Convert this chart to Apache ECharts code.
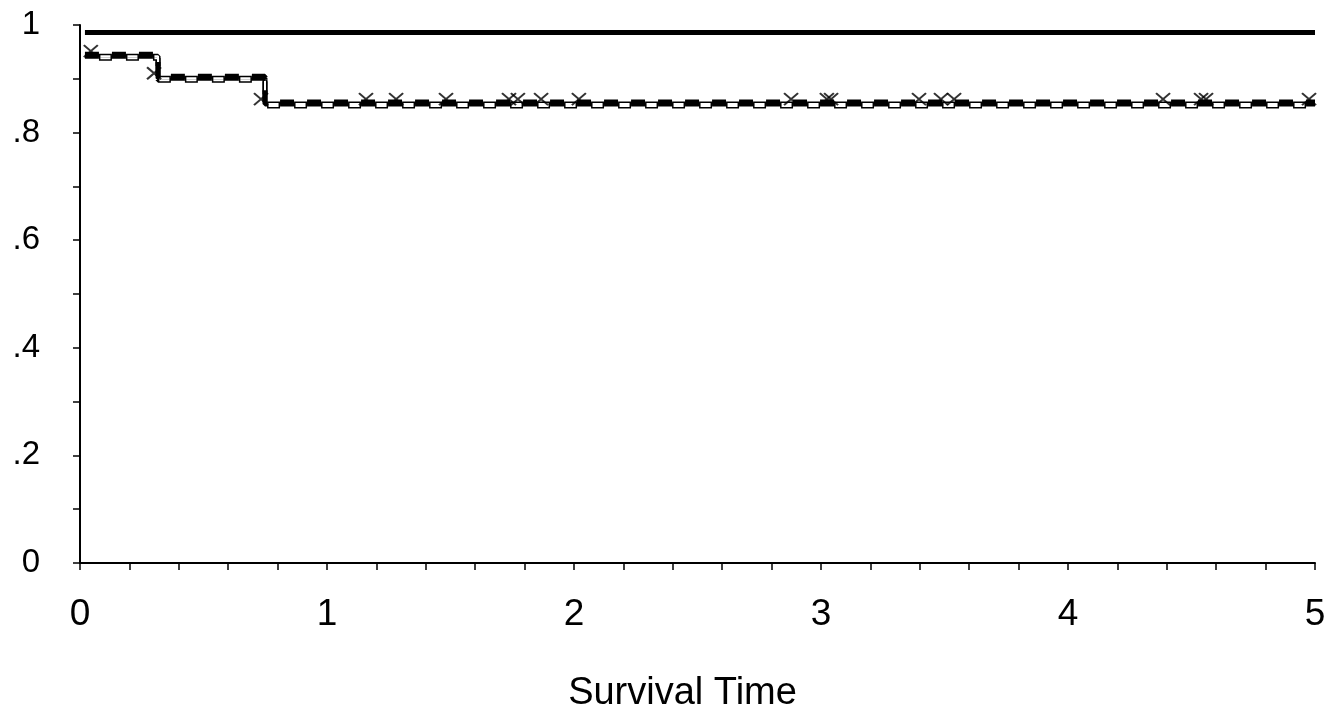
<!DOCTYPE html>
<html>
<head>
<meta charset="utf-8">
<script src="https://cdn.jsdelivr.net/npm/echarts@6/dist/echarts.min.js"></script>
<style>
html,body{margin:0;padding:0;background:#fff;}
#chart{width:1343px;height:713px;}
</style>
</head>
<body>
<div id="chart"></div>
<script>
// Group 1: no events (flat curve)
var group1Times = [0.02, 5];
var group1Surv = [0.986, 0.986];
// Group 2: Kaplan-Meier step curve
var group2Times = [0.02, 0.316, 0.749, 5];
var group2Surv = [0.942, 0.901, 0.853, 0.853];
// Group 2 censoring times
var censorTimes = [0.06, 0.316, 0.749, 1.174, 1.296, 1.498, 1.753, 1.789, 1.883, 2.036,
  2.895, 3.04, 3.057, 3.413, 3.502, 3.555, 4.401, 4.555, 4.575, 4.992];
// Tick labels
var xTickLabels = ['0', '1', '2', '3', '4', '5'];
var yTickLabels = ['0', '.2', '.4', '.6', '.8', '1'];
var xAxisTitle = 'Survival Time';

function pairs(xs, ys) { return xs.map(function (x, i) { return [x, ys[i]]; }); }
function survAt(t) {
  var v = group2Surv[0];
  for (var i = 0; i < group2Times.length; i++) { if (t >= group2Times[i]) v = group2Surv[i]; }
  return v;
}
var censorData = censorTimes.map(function (t) { return [t, survAt(t)]; });
var stepData = pairs(group2Times, group2Surv);

var font = 'Liberation Sans, Arial, sans-serif';
var chart = echarts.init(document.getElementById('chart'));
chart.setOption({
  animation: false,
  backgroundColor: '#ffffff',
  grid: { left: 80, right: 28, top: 25, bottom: 150, containLabel: false, outerBoundsMode: 'none' },
  xAxis: {
    type: 'value', min: 0, max: 5, interval: 1,
    name: xAxisTitle, nameLocation: 'middle', nameGap: 112,
    nameTextStyle: { fontFamily: font, fontSize: 38, color: '#000', padding: [0, 30, 0, 0] },
    axisLine: { show: true, onZero: false, lineStyle: { color: '#000', width: 2 } },
    axisTick: { show: true, inside: false, length: 7, lineStyle: { color: '#000', width: 1.5 } },
    minorTick: { show: true, splitNumber: 5, length: 7, lineStyle: { color: '#000', width: 1.5 } },
    splitLine: { show: false },
    axisLabel: {
      margin: 33, fontFamily: font, fontSize: 37, color: '#000',
      formatter: function (v) { var i = Math.round(v); return xTickLabels[i] || ''; }
    }
  },
  yAxis: {
    type: 'value', min: 0, max: 1, interval: 0.1,
    axisLine: { show: true, lineStyle: { color: '#000', width: 2 } },
    axisTick: { show: true, inside: false, length: 7, lineStyle: { color: '#000', width: 1.5 } },
    splitLine: { show: false },
    axisLabel: {
      margin: 40, fontFamily: font, fontSize: 33, color: '#000',
      formatter: function (v) {
        var k = Math.round(v * 10);
        return (k % 2 === 0) ? (yTickLabels[k / 2] || '') : '';
      }
    }
  },
  series: [
    {
      type: 'line', data: pairs(group1Times, group1Surv), symbol: 'none',
      lineStyle: { color: '#000', width: 5 }, z: 3
    },
    {
      // thin connecting line of the step curve
      type: 'line', data: stepData, step: 'end', symbol: 'none',
      lineStyle: { color: '#888', width: 1 }, z: 2
    },
    {
      // outline of hollow boxes (shifted down by shadow)
      type: 'line', data: stepData, step: 'end', symbol: 'none',
      lineStyle: { color: '#000', width: 5, type: [13, 14], dashOffset: 13,
        shadowColor: '#000', shadowBlur: 0, shadowOffsetY: 2 }, z: 3
    },
    {
      // interior of hollow boxes
      type: 'line', data: stepData, step: 'end', symbol: 'none',
      lineStyle: { color: '#fff', width: 2, type: [10, 17], dashOffset: 11.5,
        shadowColor: '#fff', shadowBlur: 0, shadowOffsetY: 2 }, z: 4
    },
    {
      // solid black blocks (shifted up by shadow)
      type: 'line', data: stepData, step: 'end', symbol: 'none',
      lineStyle: { color: '#000', width: 5, type: [14, 13], dashOffset: 0,
        shadowColor: '#000', shadowBlur: 0, shadowOffsetY: -2 }, z: 5
    },
    {
      type: 'scatter', data: censorData,
      symbol: 'path://M0,0L10,10M10,0L0,10', symbolSize: [14, 12], symbolOffset: [-4, -5],
      itemStyle: { color: 'rgba(0,0,0,0)', borderColor: '#000', borderWidth: 2 }, z: 6
    }
  ]
});
</script>
</body>
</html>
